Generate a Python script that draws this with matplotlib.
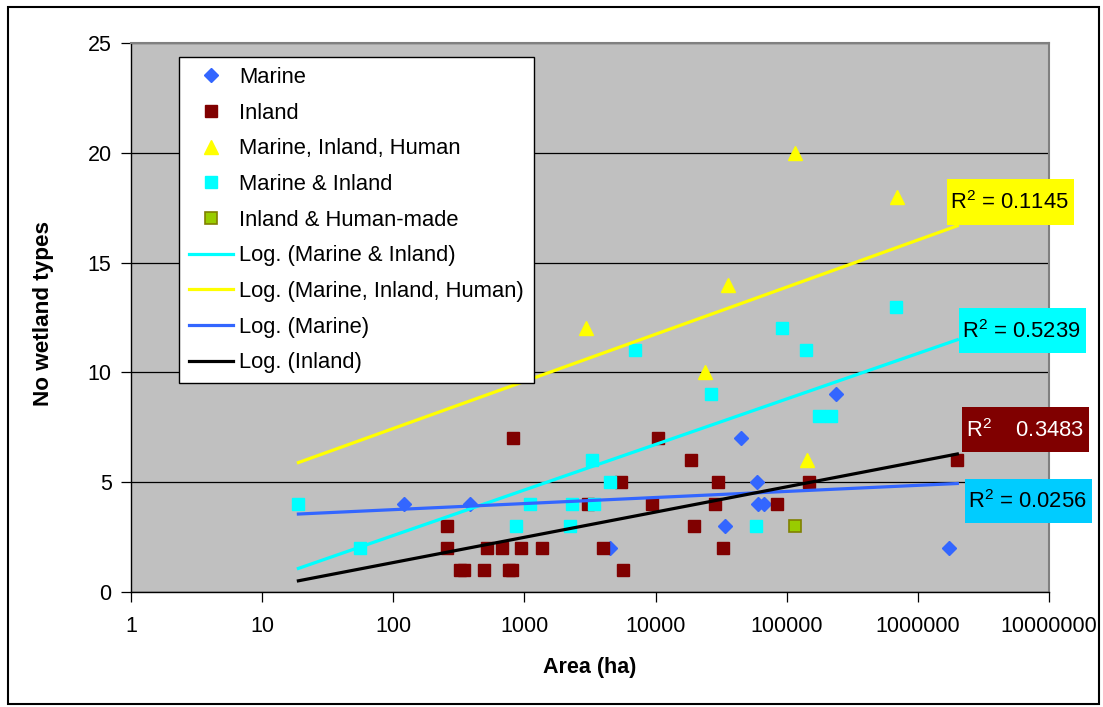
import numpy as np
import matplotlib
matplotlib.use("Agg")
import matplotlib.pyplot as plt
from matplotlib.patches import Rectangle
from matplotlib.lines import Line2D
from matplotlib.ticker import FixedLocator, NullLocator, FuncFormatter

# ---- data: wetland site area (ha) vs number of wetland types ----
marine_area = [121, 387, 4460, 33600, 44500, 59000, 60000, 66700, 236000, 1730000]
marine_types = [4, 4, 2, 3, 7, 5, 4, 4, 9, 2]

inland_area = [255, 255, 320, 347, 490, 519, 679, 764, 800, 818, 937, 1371,
               3040, 3940, 5470, 5630, 9370, 10500, 18500, 19500, 28500,
               30100, 32700, 84400, 148700, 2000000]
inland_types = [3, 2, 1, 1, 1, 2, 2, 1, 1, 7, 2, 2,
                4, 2, 5, 1, 4, 7, 6, 3, 4,
                5, 2, 4, 5, 6]

mih_area = [2970, 23700, 35900, 115000, 143600, 692000]
mih_types = [12, 10, 14, 20, 6, 18]

mi_area = [18.9, 56, 864, 1100, 2220, 2290, 3250, 3420, 4510, 7000, 26300,
           58700, 91600, 141000, 176500, 216700, 679000]
mi_types = [4, 2, 3, 4, 3, 4, 6, 4, 5, 11, 9, 3, 12, 11, 8, 8, 13]

ihm_area = [116400]
ihm_types = [3]

r2_labels = ["0.1145", "0.5239", "0.3483", "0.0256"]
x_ticks = [1, 10, 100, 1000, 10000, 100000, 1000000, 10000000]
y_ticks = [0, 5, 10, 15, 20, 25]

# ---- style ----
plt.rcParams['font.family'] = ['Liberation Sans', 'DejaVu Sans']
plt.rcParams['mathtext.fontset'] = 'custom'
plt.rcParams['mathtext.rm'] = 'Liberation Sans'
plt.rcParams['mathtext.it'] = 'Liberation Sans:italic'
plt.rcParams['mathtext.bf'] = 'Liberation Sans:bold'

FS = 15.5
FS_LEG = 15.8
C_MARINE = '#3366FF'
C_INLAND = '#800000'
C_MIH = '#FFFF00'
C_MI = '#00FFFF'
C_IHM = '#99CC00'

W, H = 1103, 707
fig = plt.figure(figsize=(W / 100, H / 100), dpi=100)
fig.patch.set_facecolor('white')


def px_box(x0, y0, x1, y1):
    return [x0 / W, 1 - y1 / H, (x1 - x0) / W, (y1 - y0) / H]


ax = fig.add_axes(px_box(131, 43, 1049, 592))
ax.set_facecolor('#C0C0C0')
ax.set_xscale('log')
ax.set_xlim(x_ticks[0], x_ticks[-1])
ax.set_ylim(y_ticks[0], y_ticks[-1])

ax.xaxis.set_major_locator(FixedLocator(x_ticks))
ax.xaxis.set_minor_locator(NullLocator())
ax.xaxis.set_major_formatter(FuncFormatter(lambda v, p: f"{int(round(v))}"))
ax.set_yticks(y_ticks)

ax.tick_params(axis='both', direction='out', length=7, width=0.9,
               labelsize=FS, colors='black')
ax.tick_params(axis='x', pad=10)
ax.tick_params(axis='y', pad=7)

ax.grid(axis='y', color='black', linewidth=0.9)
ax.set_axisbelow(True)
for s in ('left', 'bottom'):
    ax.spines[s].set_color('black')
    ax.spines[s].set_linewidth(1.0)
for s in ('top', 'right'):
    ax.spines[s].set_color('#808080')
    ax.spines[s].set_linewidth(1.5)

# ---- scatter series ----
ms_sq = 8.6
ms_d = 7.4
ax.plot(marine_area, marine_types, linestyle='none', marker='D', ms=ms_d,
        color=C_MARINE, mec=C_MARINE, zorder=3)
ax.plot(inland_area, inland_types, linestyle='none', marker='s', ms=ms_sq,
        color=C_INLAND, mec=C_INLAND, zorder=3)
ax.plot(mih_area, mih_types, linestyle='none', marker='^', ms=9.4,
        color=C_MIH, mec=C_MIH, zorder=3)
ax.plot(mi_area, mi_types, linestyle='none', marker='s', ms=ms_sq,
        color=C_MI, mec=C_MI, zorder=3)
ax.plot(ihm_area, ihm_types, linestyle='none', marker='s', ms=8.0,
        color=C_IHM, mec='#808000', mew=1.2, zorder=3)

# ---- logarithmic trend lines: y = a + b ln(x) ----
all_area = np.concatenate([marine_area, inland_area, mih_area, mi_area, ihm_area])
xs = np.geomspace(all_area.min(), all_area.max(), 200)


def log_trend(x, y):
    b, a = np.polyfit(np.log(np.asarray(x, float)), np.asarray(y, float), 1)
    return a + b * np.log(xs)


LW = 2.3
ax.plot(xs, log_trend(mi_area, mi_types), color=C_MI, lw=LW, zorder=4)
ax.plot(xs, log_trend(mih_area, mih_types), color=C_MIH, lw=LW, zorder=4)
ax.plot(xs, log_trend(marine_area, marine_types), color=C_MARINE, lw=LW, zorder=4)
ax.plot(xs, log_trend(inland_area, inland_types), color='black', lw=LW, zorder=4)

# ---- legend ----
handles = [
    Line2D([], [], ls='none', marker='D', ms=ms_d, color=C_MARINE),
    Line2D([], [], ls='none', marker='s', ms=ms_sq, color=C_INLAND),
    Line2D([], [], ls='none', marker='^', ms=9.4, color=C_MIH),
    Line2D([], [], ls='none', marker='s', ms=ms_sq, color=C_MI),
    Line2D([], [], ls='none', marker='s', ms=8.0, color=C_IHM, mec='#808000', mew=1.2),
    Line2D([], [], color=C_MI, lw=LW),
    Line2D([], [], color=C_MIH, lw=LW),
    Line2D([], [], color=C_MARINE, lw=LW),
    Line2D([], [], color='black', lw=LW),
]
labels = ['Marine', 'Inland', 'Marine, Inland, Human', 'Marine & Inland',
          'Inland & Human-made', 'Log. (Marine & Inland)',
          'Log. (Marine, Inland, Human)', 'Log. (Marine)', 'Log. (Inland)']
leg = ax.legend(handles, labels, loc='upper left',
                bbox_to_anchor=((179 - 131) / 918, (592 - 57) / 549),
                fontsize=FS_LEG, frameon=True, fancybox=False, framealpha=1,
                edgecolor='black', borderpad=0.45, handlelength=2.0,
                handletextpad=0.3, labelspacing=0.67, borderaxespad=0)
leg.get_frame().set_linewidth(1.0)
leg.set_zorder(6)

# ---- R^2 labels ----
boxes = [
    ((947, 179, 1074, 225), C_MIH, 'black', 'R$^2$ = ' + r2_labels[0]),
    ((959, 308, 1086, 353), C_MI, 'black', 'R$^2$ = ' + r2_labels[1]),
    ((962, 407, 1089, 452), C_INLAND, 'white', 'R$^2$    ' + r2_labels[2]),
    ((965, 479, 1092, 523), '#00CCFF', 'black', 'R$^2$ = ' + r2_labels[3]),
]
for (x0, y0, x1, y1), fc, tc, txt in boxes:
    r = Rectangle((x0 / W, 1 - y1 / H), (x1 - x0) / W, (y1 - y0) / H,
                  transform=fig.transFigure, facecolor=fc, edgecolor='none',
                  zorder=7)
    fig.add_artist(r)
    fig.text((x0 + 3.5) / W, 1 - ((y0 + y1) / 2 + 1) / H, txt, fontsize=FS_LEG,
             color=tc, ha='left', va='center', zorder=8)

# ---- axis titles ----
fig.text(590 / W, 1 - 668 / H, 'Area (ha)', fontsize=FS, fontweight='bold',
         ha='center', va='center')
fig.text(44 / W, 1 - 314 / H, 'No wetland types', fontsize=16.2,
         fontweight='bold', rotation=90, ha='center', va='center')

# ---- outer frame ----
fig.add_artist(Rectangle((8 / W, 1 - 704 / H), (1099 - 8) / W, (704 - 7) / H,
                         transform=fig.transFigure, facecolor='none',
                         edgecolor='black', linewidth=1.5))

fig.savefig('out.png', dpi=100)
